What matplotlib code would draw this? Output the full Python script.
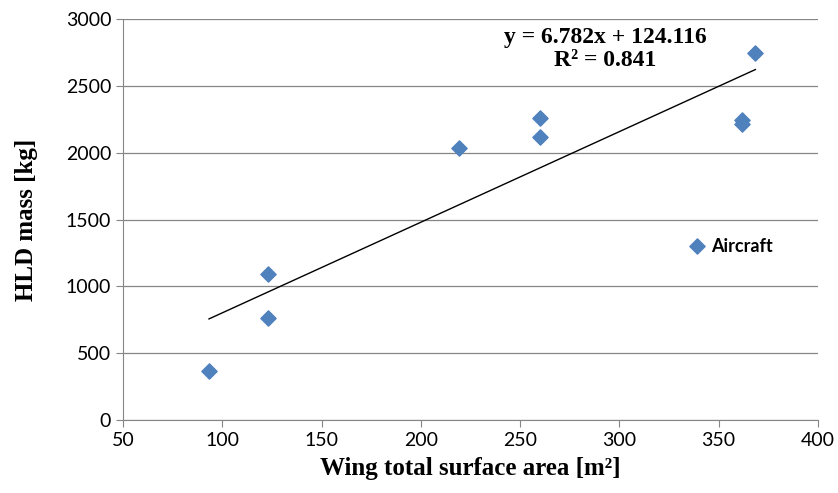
import matplotlib
matplotlib.use('Agg')
import matplotlib.pyplot as plt
import numpy as np

# Wing area [m^2] vs HLD mass [kg]
wing_area = [93.3, 123, 123, 219, 260, 260, 362, 362, 368.5]
hld_mass = [370, 1095, 760, 2035, 2262, 2117, 2245, 2215, 2745]
slope, intercept = 6.782, 124.116

fig = plt.figure(figsize=(8.38, 4.93), dpi=100)
ax = fig.add_axes([0.1468, 0.148, 0.8292, 0.813])

grid_c = '#868686'
ax.set_xlim(50, 400)
ax.set_ylim(0, 3000)
ax.set_xticks(np.arange(50, 401, 50))
ax.set_yticks(np.arange(0, 3001, 500))
ax.yaxis.grid(True, color=grid_c, lw=0.9)
ax.set_axisbelow(True)
for s in ['top', 'right']:
    ax.spines[s].set_visible(False)
for s in ['left', 'bottom']:
    ax.spines[s].set_color(grid_c)
ax.tick_params(colors=grid_c, labelcolor='black', labelsize=14, length=5)
for lab in ax.get_xticklabels() + ax.get_yticklabels():
    lab.set_fontfamily('Lato')

ax.scatter(wing_area, hld_mass, marker='D', s=60, color='#4F81BD', zorder=3)

# linear trendline
xs = np.array([min(wing_area), max(wing_area)])
ax.plot(xs, slope * xs + intercept, color='black', lw=1, zorder=2)

serif = 'Liberation Serif'
ax.text(293, 2775, 'y = 6.782x + 124.116\nR² = 0.841', ha='center', va='center',
        fontsize=17, fontweight='bold', family=serif, linespacing=1.1)

# legend
ax.scatter([339], [1300], marker='D', s=60, color='#4F81BD')
ax.text(346, 1300, 'Aircraft', va='center', fontsize=13, fontweight='bold', family='Lato')

ax.set_xlabel('Wing total surface area [m²]', fontsize=18, fontweight='bold',
              family=serif, labelpad=6)
ax.set_ylabel('HLD mass [kg]', fontsize=18, fontweight='bold', family=serif, labelpad=20)

fig.savefig('out.png', dpi=100)
